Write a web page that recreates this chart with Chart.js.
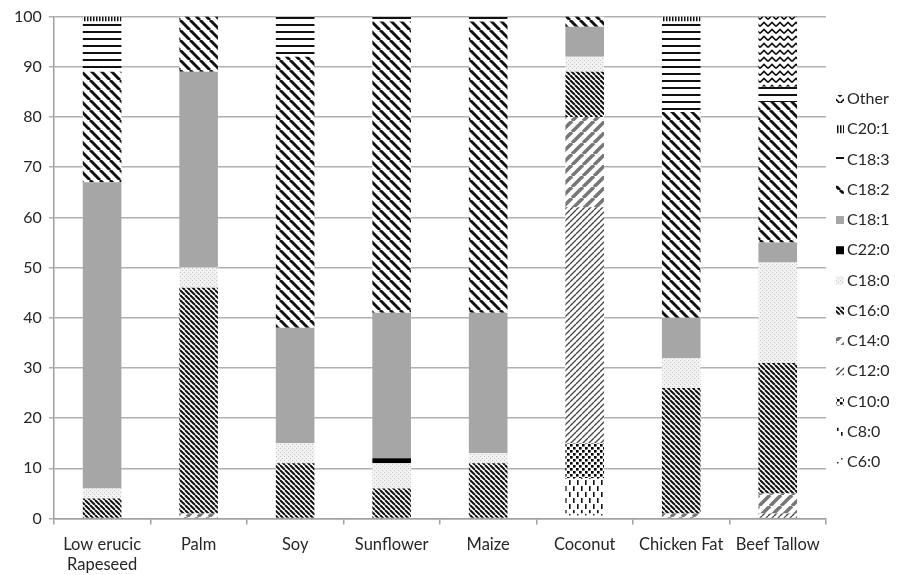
<!DOCTYPE html>
<html>
<head>
<meta charset="utf-8">
<script src="https://cdn.jsdelivr.net/npm/chart.js@4.4.0/dist/chart.umd.min.js"></script>
<style>
  html, body { margin: 0; padding: 0; background: #fff; }
  #wrap { width: 915px; height: 575px; }
</style>
</head>
<body>
<div id="wrap"><canvas id="myChart" width="915" height="575"></canvas></div>
<script>
// Fatty acid composition (%), stack order bottom -> top

const categories = [["Low erucic", "Rapeseed"], "Palm", "Soy", "Sunflower", "Maize", "Coconut", "Chicken Fat", "Beef Tallow"];
const seriesNames = ["C6:0", "C8:0", "C10:0", "C12:0", "C14:0", "C16:0", "C18:0", "C22:0", "C18:1", "C18:2", "C18:3", "C20:1", "Other"];

const c6_0  = [0, 0, 0, 0, 0, 1, 0, 0];
const c8_0  = [0, 0, 0, 0, 0, 7, 0, 0];
const c10_0 = [0, 0, 0, 0, 0, 7, 0, 0];
const c12_0 = [0, 0, 0, 0, 0, 47, 0, 1];
const c14_0 = [0, 1, 0, 0, 0, 18, 1, 4];
const c16_0 = [4, 45, 11, 6, 11, 9, 25, 26];
const c18_0 = [2, 4, 4, 5, 2, 3, 6, 20];
const c22_0 = [0, 0, 0, 1, 0, 0, 0, 0];
const c18_1 = [61, 39, 23, 29, 28, 6, 8, 4];
const c18_2 = [22, 11, 54, 58, 58, 2, 41, 28];
const c18_3 = [10, 0, 8, 1, 1, 0, 18, 3];
const c20_1 = [1, 0, 0, 0, 0, 0, 1, 0];
const other = [0, 0, 0, 0, 0, 0, 0, 14];

const yTicks = [0, 10, 20, 30, 40, 50, 60, 70, 80, 90, 100];

const ctx = document.getElementById("myChart");
const mainCtx = ctx.getContext("2d");

// Patterns (black & white print style fills)

function pattern(w, h, draw) {
  const c = document.createElement("canvas");
  c.width = w;
  c.height = h;
  const g = c.getContext("2d");
  g.fillStyle = "#fff";
  g.fillRect(0, 0, w, h);
  draw(g, w, h);
  return mainCtx.createPattern(c, "repeat");
}

function diag(s, lw, color, up) {
  return pattern(s, s, function (g) {
    g.strokeStyle = color;
    g.lineWidth = lw;
    for (let k = -1; k <= 1; k++) {
      g.beginPath();
      if (up) {
        g.moveTo(k * s, s);
        g.lineTo(k * s + s, 0);
      } else {
        g.moveTo(k * s, 0);
        g.lineTo(k * s + s, s);
      }
      g.stroke();
    }
  });
}

const fills = [
  // C6:0 sparse specks
  pattern(8, 8, function (g) {
    g.fillStyle = "#333";
    g.fillRect(1, 2, 1.5, 1.5);
    g.fillRect(5, 6, 1.5, 1.5);
  }),
  // C8:0 vertical dashes
  pattern(8, 12, function (g) {
    g.fillStyle = "#111";
    g.fillRect(1, 0, 1.6, 5);
    g.fillRect(5, 6, 1.6, 5);
  }),
  // C10:0 big dots
  pattern(6, 6, function (g) {
    g.fillStyle = "#000";
    g.fillRect(0, 0, 2.6, 2.6);
    g.fillRect(3, 3, 2.6, 2.6);
  }),
  diag(6, 1.3, "#444", true),     // C12:0
  diag(11, 3.5, "#777", true),    // C14:0
  diag(5, 2, "#111", false),      // C16:0
  // C18:0 light dots
  pattern(4, 4, function (g) {
    g.fillStyle = "#f2f2f2";
    g.fillRect(0, 0, 4, 4);
    g.fillStyle = "#c4c4c4";
    g.fillRect(0, 0, 1, 1);
    g.fillRect(2, 2, 1, 1);
  }),
  "#000",                          // C22:0
  "#a6a6a6",                       // C18:1
  diag(10, 3, "#111", false),     // C18:2
  // C18:3 horizontal lines
  pattern(4, 7, function (g) {
    g.fillStyle = "#111";
    g.fillRect(0, 3, 4, 2);
  }),
  // C20:1 vertical lines
  pattern(3, 4, function (g) {
    g.fillStyle = "#111";
    g.fillRect(0, 0, 1.5, 4);
  }),
  // Other zigzag
  pattern(8, 7, function (g) {
    g.strokeStyle = "#111";
    g.lineWidth = 1.6;
    g.beginPath();
    g.moveTo(0, 5.5);
    g.lineTo(4, 1.5);
    g.lineTo(8, 5.5);
    g.stroke();
  })
];

const seriesData = [c6_0, c8_0, c10_0, c12_0, c14_0, c16_0, c18_0, c22_0, c18_1, c18_2, c18_3, c20_1, other];

const datasets = seriesNames.map(function (name, i) {
  return {
    label: name,
    data: seriesData[i],
    backgroundColor: fills[i],
    borderWidth: 0,
    barPercentage: 0.4,
    categoryPercentage: 1.0
  };
});

const FONT = "Lato";
const TEXT = "#262626";

// legend on the right, top entry = top of stack
const sideLegend = {
  id: "sideLegend",
  afterDraw(chart) {
    const g = chart.ctx;
    const sets = chart.data.datasets;
    const x = chart.chartArea.right + 10;
    g.save();
    g.font = "16px " + FONT;
    g.textBaseline = "middle";
    for (let i = sets.length - 1, row = 0; i >= 0; i--, row++) {
      const y = 99 + row * 30.25;
      g.fillStyle = sets[i].backgroundColor;
      g.fillRect(x, y - 4, 8, 8);
      g.fillStyle = TEXT;
      g.fillText(sets[i].label, x + 11, y);
    }
    g.restore();
  }
};

var myChart = new Chart(ctx, {
  type: "bar",
  data: {
    labels: categories,
    datasets: datasets
  },
  options: {
    responsive: false,
    animation: false,
    layout: { padding: { left: 7, right: 89, top: 5, bottom: 0 } },
    plugins: {
      legend: { display: false },
      tooltip: { enabled: false }
    },
    scales: {
      x: {
        stacked: true,
        afterFit(scale) {
          scale.height = 56.5;
        },
        grid: { drawOnChartArea: false, tickLength: 6, color: "#a0a0a0", lineWidth: 1.5 },
        border: { color: "#a0a0a0", width: 1.5 },
        ticks: { color: TEXT, font: { family: FONT, size: 16.5, lineHeight: 1.22 }, padding: 10, maxRotation: 0 }
      },
      y: {
        stacked: true,
        min: 0,
        max: 100,
        afterBuildTicks(scale) {
          scale.ticks = yTicks.map(function (v) { return { value: v }; });
        },
        grid: { color: "#b0b0b0", lineWidth: 1.5, tickLength: 5 },
        border: { color: "#a0a0a0", width: 1.5 },
        ticks: { color: TEXT, font: { family: FONT, size: 16 }, padding: 7 }
      }
    }
  },
  plugins: [sideLegend]
});
</script>
</body>
</html>
